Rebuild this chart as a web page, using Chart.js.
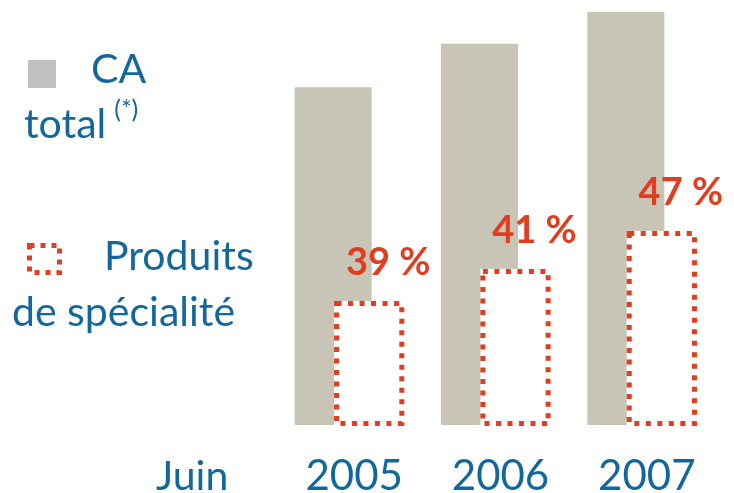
<!DOCTYPE html>
<html>
<head>
<meta charset="utf-8">
<script src="https://cdn.jsdelivr.net/npm/chart.js@4"></script>
<style>
  body { margin: 0; background: #fff; }
  #wrap { position: relative; width: 734px; height: 493px; font-family: Lato, sans-serif; color: #12689c; }
  #wrap canvas { position: absolute; left: 0; top: 0; }
  .txt { position: absolute; font-size: 41px; line-height: 1; white-space: nowrap; }
  .sup { font-size: 25px; position: relative; top: -20px; margin-left: 8px; }
  #greyBox { position: absolute; left: 28px; top: 60px; width: 28px; height: 28px; background: #c0c0c0; }
  #redBox { position: absolute; left: 27px; top: 243px; }
</style>
</head>
<body>
<div id="wrap">
  <canvas id="myChart" width="734" height="493"></canvas>
  <div id="greyBox"></div>
  <div class="txt" style="left:91px; top:47px;">CA</div>
  <div class="txt" style="left:24px; top:102px;">total<span class="sup">(*)</span></div>
  <svg id="redBox" width="36" height="33">
    <rect x="2.5" y="2.5" width="30" height="27" fill="none" stroke="#e23d1f" stroke-width="5" stroke-dasharray="5 6"></rect>
  </svg>
  <div class="txt" style="left:104px; top:234px;">Produits</div>
  <div class="txt" style="left:12px; top:290px;">de spécialité</div>
  <div class="txt" style="left:156px; top:454px;">Juin</div>
</div>
<script>
const categories = ['2005', '2006', '2007'];
const caTotal = [81.8, 92.3, 100];
const specialite = [30, 37.8, 47];
const pctLabels = ['39 %', '41 %', '47 %'];

const red = '#e23d1f';
const blue = '#12689c';

// draws the dotted outline bars and their % labels on top of the grey bars
const dottedBars = {
    id: 'dottedBars',
    afterDatasetsDraw(chart) {
        const ctx = chart.ctx;
        const meta = chart.getDatasetMeta(1);
        meta.data.forEach(function (bar, i) {
            const p = bar.getProps(['x', 'y', 'base', 'width'], true);
            const left = p.x - p.width / 2;
            const h = p.base - p.y;
            ctx.save();
            ctx.fillStyle = '#fff';
            ctx.fillRect(left, p.y, p.width, h);
            ctx.strokeStyle = red;
            ctx.lineWidth = 5;
            ctx.setLineDash([5, 6.5]);
            ctx.strokeRect(left + 2.5, p.y + 2.5, p.width - 5, h - 4);
            ctx.setLineDash([]);
            ctx.fillStyle = red;
            ctx.font = 'bold 38px Lato';
            ctx.textAlign = 'center';
            ctx.textBaseline = 'alphabetic';
            ctx.fillText(pctLabels[i], p.x + 19, p.y - 26);
            ctx.restore();
        });
    }
};

new Chart(document.getElementById('myChart').getContext('2d'), {
    type: 'bar',
    data: {
        labels: categories,
        datasets: [{
            label: 'CA total (*)',
            data: caTotal,
            backgroundColor: '#c8c4b6',
            categoryPercentage: 0.4923,
            barPercentage: 2.14
        }, {
            label: 'Produits de spécialité',
            data: specialite,
            backgroundColor: 'rgba(0,0,0,0)',
            categoryPercentage: 0.4923,
            barPercentage: 1.95
        }]
    },
    options: {
        responsive: false,
        animation: false,
        layout: { padding: { left: 278, right: 17, top: 12, bottom: 0 } },
        plugins: { legend: { display: false }, tooltip: { enabled: false } },
        scales: {
            x: {
                grid: { display: false, drawTicks: false },
                border: { display: false },
                ticks: {
                    color: blue,
                    font: { family: 'Lato', size: 42, lineHeight: 1 },
                    padding: 30,
                    labelOffset: 3
                },
                afterFit: function (scale) {
                    scale.height = 68;
                }
            },
            y: {
                display: false,
                min: 0,
                max: 100
            }
        }
    },
    plugins: [dottedBars]
});
</script>
</body>
</html>
